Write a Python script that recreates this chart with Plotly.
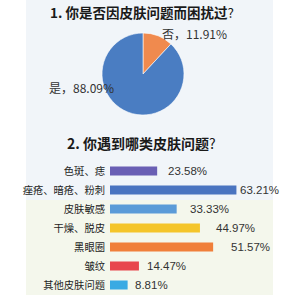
import plotly.graph_objects as go

# Data
pie_labels = ["否", "是"]
pie_values = [11.91, 88.09]
pie_colors = ["#f08a4e", "#4a7dc2"]

bar_categories = ["色斑、痣", "痤疮、暗疮、粉刺", "皮肤敏感", "干燥、脱皮", "黑眼圈", "皱纹", "其他皮肤问题"]
bar_values = [23.58, 63.21, 33.33, 44.97, 51.57, 14.47, 8.81]
bar_colors = ["#6a5fb4", "#4a74c0", "#5b9bd8", "#f4c52a", "#f07f3a", "#e8474d", "#3aaae3"]
label_shift = [9, 2, 11, 14, 16, 6, 5]

title1 = "1. 你是否因皮肤问题而困扰过"
title2 = "2. 你遇到哪类皮肤问题"

W = H = 295
CJK = "Noto Sans CJK SC"

fig = go.Figure()

# pie: center (143,74), radius 41
cx, cy, r = 143, 74, 41
fig.add_trace(go.Pie(
    labels=pie_labels, values=pie_values, sort=False, direction="clockwise",
    rotation=0, marker=dict(colors=pie_colors, line=dict(color="#ffffff", width=0.6)),
    textinfo="none", hoverinfo="label+percent", showlegend=False,
    domain=dict(x=[(cx - r) / W, (cx + r) / W], y=[1 - (cy + r) / H, 1 - (cy - r) / H]),
))

fig.add_trace(go.Bar(
    x=bar_values, y=bar_categories, orientation="h",
    marker=dict(color=bar_colors, line=dict(width=0)), width=0.47,
    xaxis="x", yaxis="y", showlegend=False,
))

annotations = []
# pie labels
annotations.append(dict(x=160 / W, y=1 - 33 / H, xref="paper", yref="paper", xanchor="left", yanchor="middle",
                        text=f"{pie_labels[0]}，{pie_values[0]:.2f}%", showarrow=False,
                        font=dict(family=CJK, size=12, color="#333333")))
annotations.append(dict(x=116 / W, y=1 - 87 / H, xref="paper", yref="paper", xanchor="right", yanchor="middle",
                        text=f"{pie_labels[1]}，{pie_values[1]:.2f}%", showarrow=False,
                        font=dict(family=CJK, size=12, color="#333333")))
# titles
annotations.append(dict(x=142 / W, y=1 - 12 / H, xref="paper", yref="paper", xanchor="center", yanchor="middle",
                        text=f"<b>{title1}</b>?", showarrow=False, font=dict(family=CJK, size=13.5, color="#1a1a1a")))
annotations.append(dict(x=141 / W, y=1 - 143 / H, xref="paper", yref="paper", xanchor="center", yanchor="middle",
                        text=f"<b>{title2}</b>?", showarrow=False, font=dict(family=CJK, size=14, color="#1a1a1a")))
# bar value labels
for c, v, s in zip(bar_categories, bar_values, label_shift):
    annotations.append(dict(x=v, y=c, xref="x", yref="y", xanchor="left", yanchor="middle", xshift=s,
                            text=f"{v:.2f}%", showarrow=False,
                            font=dict(family="Liberation Sans", size=11.5, color="#333333")))

shapes = [
    dict(type="rect", xref="paper", yref="paper", x0=26 / W, x1=273 / W, y0=0, y1=1,
         fillcolor="#f1f5f9", line=dict(width=0), layer="below"),
    dict(type="rect", xref="paper", yref="paper", x0=26 / W, x1=273 / W, y0=0, y1=1 - 200 / H,
         fillcolor="#f4f7ec", line=dict(width=0), layer="below"),
]

fig.update_layout(
    width=W, height=H, margin=dict(l=0, r=0, t=0, b=0),
    paper_bgcolor="#ffffff", plot_bgcolor="rgba(0,0,0,0)",
    xaxis=dict(domain=[110 / W, 280 / W], range=[0, 85], visible=False, fixedrange=True),
    yaxis=dict(domain=[1 - 294.5 / H, 1 - 161.5 / H], autorange="reversed", showgrid=False, zeroline=False,
               showline=False, ticks="", ticklabelstandoff=4,
               tickfont=dict(family=CJK, size=10.3, color="#1e1e1e")),
    annotations=annotations, shapes=shapes,
)

fig.write_html("out.html")
